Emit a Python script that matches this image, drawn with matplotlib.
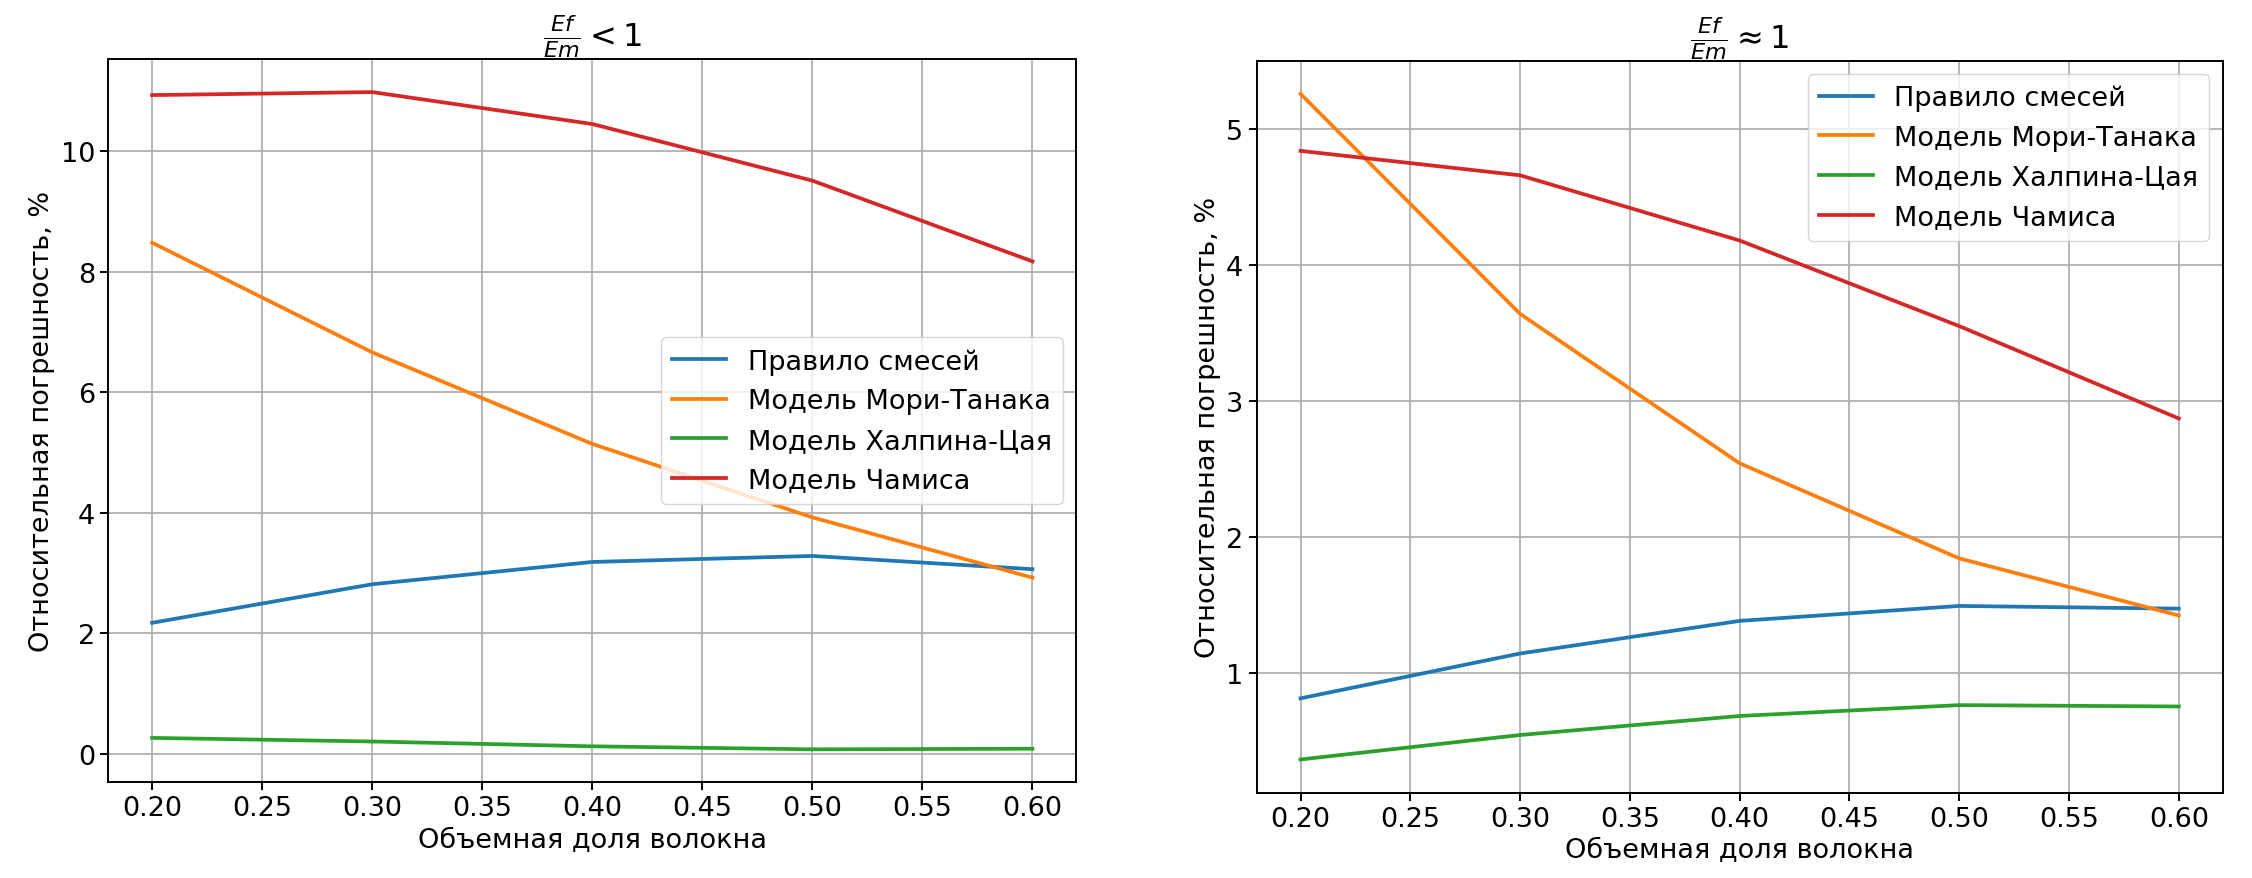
import matplotlib
matplotlib.use('Agg')
import matplotlib.pyplot as plt

# ─── DATA ─────────────────────────────────────────────────────────────────────
fraction = [0.2, 0.3, 0.4, 0.5, 0.6]

labels = ['Правило смесей', 'Модель Мори-Танака', 'Модель Халпина-Цая', 'Модель Чамиса']

# E_f / E_m < 1
low_rule = [2.17, 2.81, 3.18, 3.28, 3.06]
low_mori = [8.48, 6.66, 5.14, 3.92, 2.92]
low_halpin = [0.26, 0.20, 0.12, 0.07, 0.08]
low_chamis = [10.93, 10.98, 10.45, 9.51, 8.17]

# E_f / E_m ≈ 1
eq_rule = [0.81, 1.14, 1.38, 1.49, 1.47]
eq_mori = [5.26, 3.64, 2.54, 1.84, 1.42]
eq_halpin = [0.36, 0.54, 0.68, 0.76, 0.75]
eq_chamis = [4.84, 4.66, 4.18, 3.55, 2.87]

titles = [r'$\frac{Ef}{Em} < 1$', r'$\frac{Ef}{Em} \approx 1$']

plt.rcParams['font.size'] = 19.5
plt.rcParams['lines.linewidth'] = 2.7
plt.rcParams['axes.linewidth'] = 1.4
plt.rcParams['grid.linewidth'] = 1.3
plt.rcParams['xtick.major.width'] = 1.4
plt.rcParams['ytick.major.width'] = 1.4
plt.rcParams['xtick.major.size'] = 6
plt.rcParams['ytick.major.size'] = 6

fig = plt.figure(figsize=(22.52, 8.79), dpi=100)
ax1 = fig.add_axes([0.048, 0.109, 0.430, 0.8225])
ax2 = fig.add_axes([0.558, 0.097, 0.429, 0.833])

for ax, series, title, loc in [
    (ax1, [low_rule, low_mori, low_halpin, low_chamis], titles[0], 'center right'),
    (ax2, [eq_rule, eq_mori, eq_halpin, eq_chamis], titles[1], 'upper right'),
]:
    for vals, lab in zip(series, labels):
        ax.plot(fraction, vals, label=lab)
    ax.set_title(title, fontsize=23, pad=6)
    ax.set_xlabel('Объемная доля волокна')
    ax.set_ylabel('Относительная погрешность, %')
    ax.set_xticks([0.2, 0.25, 0.3, 0.35, 0.4, 0.45, 0.5, 0.55, 0.6])
    ax.set_xticklabels(['0.20', '0.25', '0.30', '0.35', '0.40', '0.45', '0.50', '0.55', '0.60'])
    ax.grid(True)
    ax.legend(loc=loc)

fig.savefig('out.png', dpi=100)
